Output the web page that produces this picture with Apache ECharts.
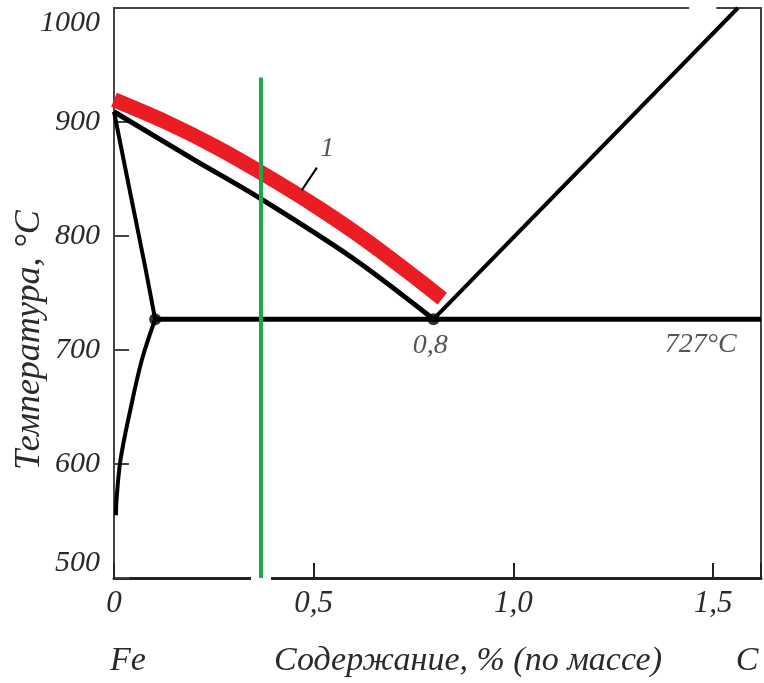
<!DOCTYPE html>
<html>
<head>
<meta charset="utf-8">
<script src="https://cdn.jsdelivr.net/npm/echarts@6/dist/echarts.min.js"></script>
<style>
html,body{margin:0;padding:0;background:#fff;}
#c{width:764px;height:683px;}
</style>
</head>
<body>
<div id="c"></div>
<script>
// ---- data (carbon %, temperature °C) ----
const xTicks = [0, 0.5, 1.0, 1.5];
const yTicks = [500, 600, 700, 800, 900, 1000];
const lineGS = [[0, 909], [0.2, 867], [0.361, 834], [0.6, 780], [0.8, 727]];
const lineRed = [[0, 919.5], [0.13, 900], [0.256, 878], [0.381, 853], [0.506, 826], [0.632, 796], [0.757, 763], [0.822, 745]];
const lineGP = [[0, 909], [0.044, 832], [0.078, 773], [0.103, 727]];
const linePQ = [[0.103, 727], [0.070, 691.6], [0.041, 647.6], [0.0163, 603.7], [0.0063, 568.5], [0.005, 555]];
const lineSE = [[0.8, 727], [1.562, 1000]];
const line727 = [[0.103, 727], [1.62, 727]];
const pointsPS = [[0.103, 727], [0.8, 727]];
const greenLine = [[0.368, 939], [0.368, 500]];
const leader1 = [[0.47, 840], [0.508, 860]];
const label1 = [[0.534, 877, '1']];
const textLabels = [[0.792, 704, '0,8'], [1.469, 705, '727°C']];

const FONT = 'Liberation Serif';
const TXT = '#2a2a2a';

const chart = echarts.init(document.getElementById('c'));
const fmtX = v => {
  if (Math.abs(v * 2 - Math.round(v * 2)) > 1e-6) return '';
  return v === 0 ? '0' : v.toFixed(1).replace('.', ',');
};
const fmtY = v => (yTicks.indexOf(v) >= 0 ? String(v) : '');
const blackLine = (data, w, smooth) => ({
  type: 'line', data, symbol: 'none', smooth: smooth || false, animation: false,
  lineStyle: {color: '#000', width: w}, z: 3
});

chart.setOption({
  animation: false,
  backgroundColor: '#fff',
  grid: {left: 114, right: 3, top: 8, bottom: 105, show: true, borderColor: '#444', borderWidth: 2},
  xAxis: {
    type: 'value', min: 0, max: 1.62, interval: 0.5,
    splitLine: {show: false},
    axisLine: {show: true, onZero: false, lineStyle: {color: '#222', width: 3}},
    axisTick: {show: true, inside: true, length: 15, lineStyle: {color: '#222', width: 2}},
    axisLabel: {formatter: fmtX, margin: 10, fontFamily: FONT, fontStyle: 'italic', fontSize: 31, color: TXT}
  },
  yAxis: {
    type: 'value', min: 500, max: 1000, interval: 100,
    splitLine: {show: false},
    axisLine: {show: true, lineStyle: {color: '#444', width: 2}},
    axisTick: {show: true, inside: true, length: 15, lineStyle: {color: '#444', width: 2}},
    axisLabel: {formatter: fmtY, margin: 14, fontFamily: FONT, fontStyle: 'italic', fontSize: 30, color: TXT,
      verticalAlignMinLabel: 'bottom', verticalAlignMaxLabel: 'top'}
  },
  series: [
    {type: 'line', data: lineRed, symbol: 'none', smooth: 0.3, lineStyle: {color: '#ec1c24', width: 15, cap: 'butt'}, z: 2},
    blackLine(lineGS, 5, 0.3),
    blackLine(lineGP, 4, 0.2),
    blackLine(linePQ, 4, 0.35),
    blackLine(lineSE, 4),
    blackLine(line727, 5),
    blackLine(leader1, 2),
    {type: 'scatter', data: pointsPS, symbol: 'circle', symbolSize: 12, itemStyle: {color: '#000'}, z: 4},
    {type: 'line', data: greenLine, symbol: 'none', lineStyle: {color: '#1fa64a', width: 4, cap: 'butt'}, z: 6},
    {type: 'scatter', data: label1.concat(textLabels), symbolSize: 0, z: 7,
      label: {show: true, position: 'inside', formatter: p => p.data[2], fontFamily: FONT, fontStyle: 'italic', fontSize: 28, color: TXT}}
  ]
});

// frame gaps (as in the scanned original) and free texts
const g = chart.convertToPixel({gridIndex: 0}, [greenLine[0][0], 500]);
const t1 = chart.convertToPixel({gridIndex: 0}, [1.44, 1000]);
const t2 = chart.convertToPixel({gridIndex: 0}, [1.508, 1000]);
chart.setOption({
  graphic: [
    {id: 'gapB', type: 'rect', z: 5, shape: {x: g[0] - 10, y: g[1] - 3, width: 20, height: 6}, style: {fill: '#fff'}},
    {id: 'gapT', type: 'rect', z: 5, shape: {x: t1[0], y: t1[1] - 3, width: t2[0] - t1[0], height: 5}, style: {fill: '#fff'}},
    {id: 'fe', type: 'text', x: 128, y: 661, style: {text: 'Fe', font: 'italic 34px "Liberation Serif"', fill: TXT, align: 'center', verticalAlign: 'middle'}},
    {id: 'xname', type: 'text', x: 468, y: 661, style: {text: 'Содержание, % (по массе)', font: 'italic 34px "Liberation Serif"', fill: TXT, align: 'center', verticalAlign: 'middle'}},
    {id: 'c', type: 'text', x: 747, y: 661, style: {text: 'C', font: 'italic 34px "Liberation Serif"', fill: TXT, align: 'center', verticalAlign: 'middle'}},
    {id: 'yname', type: 'text', x: 30, y: 340, rotation: Math.PI / 2, style: {text: 'Температура, °C', font: 'italic 36px "Liberation Serif"', fill: TXT, align: 'center', verticalAlign: 'middle'}}
  ]
});
</script>
</body>
</html>
